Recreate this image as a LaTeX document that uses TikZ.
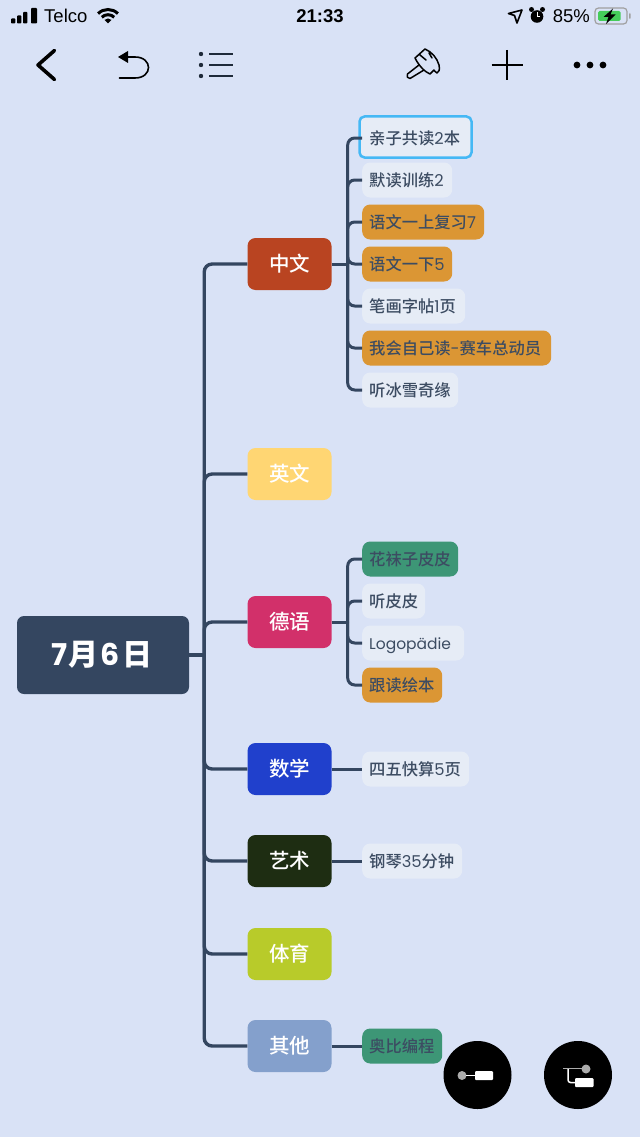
\documentclass[tikz,border=0pt]{standalone}
\usepackage{fontspec}
\setmainfont{Noto Sans CJK SC Medium}
\newfontfamily\latinf{Poppins}
\newfontfamily\uifont{Liberation Sans}
\newcommand{\lt}[1]{{\latinf #1}}
\definecolor{bgc}{HTML}{D9E2F6}
\definecolor{linec}{HTML}{344660}
\definecolor{leafc}{HTML}{E6ECF6}
\definecolor{leaft}{HTML}{3C4C62}
\definecolor{orangec}{HTML}{DB9634}
\definecolor{greenc}{HTML}{3D9676}
\definecolor{selc}{HTML}{45B8F5}
\definecolor{battc}{HTML}{45CC5A}
\definecolor{c1}{HTML}{B94421}
\definecolor{c2}{HTML}{FFD673}
\definecolor{c3}{HTML}{D2306A}
\definecolor{c4}{HTML}{2040CC}
\definecolor{c5}{HTML}{1E2D12}
\definecolor{c6}{HTML}{B8CB2A}
\definecolor{c7}{HTML}{84A0CC}
\tikzset{
  rootbox/.style={fill=linec,rounded corners=7pt,minimum width=172pt,minimum height=78pt,inner sep=0pt,text=white,text height=22pt,text depth=1pt,font=\fontsize{30}{32}\selectfont\bfseries},
  branchbox/.style={fill=#1,rounded corners=8pt,minimum width=84pt,minimum height=52pt,inner sep=0pt,text=white,text height=16.5pt,text depth=1pt,font=\fontsize{20.5}{24}\selectfont},
  leafbox/.style={fill=leafc,rounded corners=8pt,anchor=west,text width=#1,minimum height=35pt,inner xsep=7pt,inner ysep=0pt,text=leaft,text height=13pt,text depth=1pt,font=\fontsize{16.3}{18}\selectfont},
  orangefill/.style={fill=orangec},
  greenfill/.style={fill=greenc},
  conn/.style={draw=linec,line width=3.4pt,rounded corners=8pt},
  subconn/.style={draw=linec,line width=3pt,rounded corners=7pt},
  selframe/.style={draw=selc,fill=leafc,line width=2.5pt,rounded corners=5pt,minimum width=112pt,minimum height=41pt,inner sep=0pt},
  fab/.style={circle,fill=black,minimum size=68pt,inner sep=0pt},
  status/.style={inner sep=0pt,text=black,font=\uifont\fontsize{18.5}{20}\selectfont},
  icon/.style={draw=black,line width=1.6pt,line cap=round,line join=round},
}
\begin{document}
\begin{tikzpicture}[x=1pt,y=-1pt]
\useasboundingbox (0,0) rectangle (640,1137);
\fill[bgc] (0,0) rectangle (640,1137);

% main nodes
\node[rootbox] (root) at (103,655) {\lt{7}\kern1pt月\kern2pt\lt{6}\kern2pt日\kern2pt};
\node[branchbox=c1] (b1) at (289.5,264) {中文};
\node[branchbox=c2] (b2) at (289.5,474) {英文};
\node[branchbox=c3] (b3) at (289.5,622) {德语};
\node[branchbox=c4] (b4) at (289.5,769) {数学};
\node[branchbox=c5] (b5) at (289.5,861) {艺术};
\node[branchbox=c6] (b6) at (289.5,954) {体育};
\node[branchbox=c7] (b7) at (289.5,1046) {其他};

% leaves
\node[selframe] (sel) at (415.5,137) {};
\node[leafbox=93pt] (l11) at (362,138) {亲子共读\lt{2}本};
\node[leafbox=76pt] (l12) at (362,180) {默读训练\lt{2}};
\node[leafbox=108pt,orangefill] (l13) at (362,222) {语文一上复习\lt{7}};
\node[leafbox=76pt,orangefill] (l14) at (362,264) {语文一下\lt{5}};
\node[leafbox=89pt] (l15) at (362,306) {笔画字帖\lt{1}页};
\node[leafbox=175pt,orangefill] (l16) at (362,348) {我会自己读\lt{-}赛车总动员};
\node[leafbox=82pt] (l17) at (362,390) {听冰雪奇缘};
\node[leafbox=82pt,greenfill] (l31) at (362,559) {花袜子皮皮};
\node[leafbox=49pt] (l32) at (362,601) {听皮皮};
\node[leafbox=88pt] (l33) at (362,643) {\lt{\fontsize{15.5}{18}\selectfont Logopädie}};
\node[leafbox=66pt,orangefill] (l34) at (362,685) {跟读绘本};
\node[leafbox=93pt] (l41) at (362,769) {四五快算\lt{5}页};
\node[leafbox=86pt] (l51) at (362,861) {钢琴\lt{35}分钟};
\node[leafbox=66pt,greenfill] (l71) at (362,1046) {奥比编程};

% connectors
\draw[conn] (root.east) -- ++(15,0) coordinate (tr);
\foreach \b in {b1,b2,b3,b4,b5,b6,b7}{
  \draw[conn] (tr) |- (\b.west);
}
\draw[subconn] (b1.east) -- ++(16,0) coordinate (t1);
\foreach \l in {l11,l12,l13,l14,l15,l16,l17}{
  \draw[subconn] (t1) |- (\l.west);
}
\draw[subconn] (b3.east) -- ++(16,0) coordinate (t3);
\foreach \l in {l31,l32,l33,l34}{
  \draw[subconn] (t3) |- (\l.west);
}
\draw[subconn] (b4.east) -- (l41.west);
\draw[subconn] (b5.east) -- (l51.west);
\draw[subconn] (b7.east) -- (l71.west);

% status bar
\foreach \x/\t in {11/18.5,17/15.5,23/12,31/8}{
  \fill[black,rounded corners=0.8pt] (\x,\t) rectangle ++(\ifnum\x=31 6\else 4.3\fi,23.5-\t);
}
\node[status,anchor=base west] (telco) at (44,23) {Telco};
\begin{scope}[shift={(108,23.5)},y=1pt]
  \draw[black,line width=3pt] (45:14) arc (45:135:14);
  \draw[black,line width=3pt] (45:8.8) arc (45:135:8.8);
  \fill[black] (0,0) -- (45:5) arc (45:135:5) -- cycle;
\end{scope}
\node[status,anchor=base,font=\uifont\bfseries\fontsize{18.5}{20}\selectfont] (clock) at (320,23) {21:33};
\draw[icon] (508.5,13.5) -- (522,10) -- (517,23) -- (514.5,15.5) -- cycle;
\fill[black] (537,16.5) circle (6.3);
\fill[black] (531.5,9.5) circle (2.5) (542.5,9.5) circle (2.5);
\draw[white,line width=1pt] (537,12.5) -- (537,17) -- (540,17);
\node[status,anchor=base east] (pct) at (590,23) {85\%};
\draw[gray!75,line width=1.2pt,rounded corners=3.5pt] (595,8) rectangle (627,24);
\fill[gray!75,rounded corners=1pt] (629,13) rectangle (630.5,19);
\fill[battc,rounded corners=1.5pt] (598,11) rectangle (620.5,21);
\fill[black] (613,8.5) -- (603.5,17) -- (608.5,17) -- (606,24) -- (615.5,14.5) -- (610.5,14.5) -- cycle;

% toolbar
\draw[black,line width=3.6pt,line cap=round,line join=round] (54.5,50.5) -- (38,65) -- (54.5,79.5);
\fill[black] (118,57) -- (128,51) -- (128,63) -- cycle;
\draw[icon] (127,57) -- (135,57) .. controls (153,57) and (153,78) .. (135,78) -- (119.5,78);
\foreach \y in {54,65,76}{
  \fill[linec!60!black] (201,\y) circle (2.2);
  \draw[linec!60!black,line width=1.6pt] (209,\y) -- (233,\y);
}
% paint brush
\draw[black,line width=1.5pt,line join=round,line cap=round]
  (415,58) -- (425,49) .. controls (432,52) and (437,58) .. (439,65) .. controls (440,70) and (439,72) .. (437,73) .. controls (434,72) and (435,70) .. (434,70) -- (430,74) .. controls (425,72) and (419,66) .. (415,58) -- cycle
  (419,65) -- (407.5,74) .. controls (406,76) and (408,79) .. (410,78.5) -- (424,70)
  (420,55) -- (426,60) (429,53) -- (432,58);
\draw[black,line width=1.6pt] (491.5,65) -- (522.5,65) (507,50) -- (507,80);
\foreach \x in {577,590,603}{ \fill[black] (\x,65) circle (3.4); }

% floating buttons
\node[fab] (fa) at (477.5,1075) {};
\node[fab] (fb) at (578,1075) {};
\fill[gray!65] (462,1075.5) circle (4.5);
\draw[white,line width=1.2pt] (466,1075.5) -- (476,1075.5);
\fill[white,rounded corners=1pt] (475,1071) rectangle (493,1080);
\draw[gray!65,line width=1.5pt] (563,1068.5) -- (584,1068.5);
\fill[gray!65] (586,1069) circle (4.5);
\draw[white,line width=1.5pt,rounded corners=2.5pt] (568,1069) -- (568,1082.5) -- (576,1082.5);
\fill[white,rounded corners=1pt] (575,1078) rectangle (593.5,1087);
\end{tikzpicture}
\end{document}
